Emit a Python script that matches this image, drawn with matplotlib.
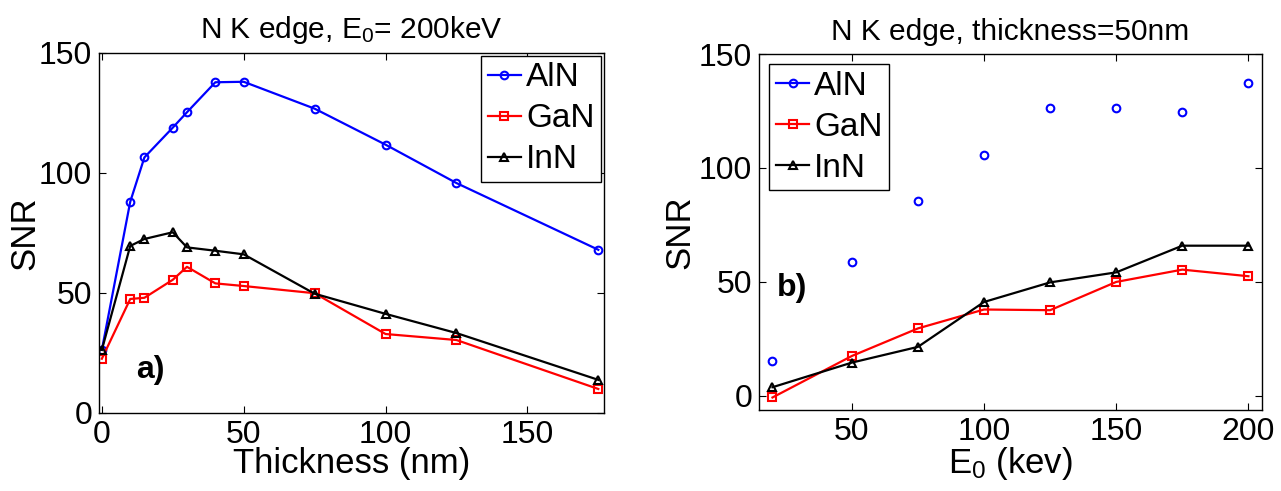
"""
SNR of the N K edge for AlN, GaN and InN:
a) versus specimen thickness, b) versus beam energy.
"""

import matplotlib

matplotlib.use('Agg')
import matplotlib.pyplot as plt

plt.rcParams['font.family'] = ['Liberation Sans', 'DejaVu Sans']
plt.rcParams['mathtext.fontset'] = 'custom'
plt.rcParams['mathtext.rm'] = 'Liberation Sans'
plt.rcParams['mathtext.it'] = 'Liberation Sans'

# panel a) thickness scan, E0 = 200 keV
thickness = [0, 10, 15, 25, 30, 40, 50, 75, 100, 125, 175]
aln_thick = [26.3, 88, 106.5, 118.9, 125.3, 137.8, 138, 126.8, 111.8, 95.8, 68]
gan_thick = [22.6, 47.5, 48, 55.5, 60.9, 54, 52.9, 49.9, 32.9, 30.4, 10]
inn_thick = [26.3, 69.6, 72.5, 75.3, 69, 67.6, 66.1, 49.7, 41.3, 33.3, 13.8]

# panel b) energy scan, thickness = 50 nm
energy = [20, 50, 75, 100, 125, 150, 175, 200]
aln_energy = [15.2, 58.6, 85.5, 105.8, 126.2, 126.2, 124.4, 137.4]
gan_energy = [-0.7, 17.5, 29.6, 37.9, 37.6, 50, 55.4, 52.5]
inn_energy = [3.8, 14.6, 21.5, 41.2, 49.8, 54.2, 65.9, 65.9]

materials = ['AlN', 'GaN', 'InN']
colors = ['#0000ff', '#ff0000', '#000000']
markers = ['o', 's', '^']

TICK_FS = 23
LABEL_FS = 25
TITLE_FS = 21.5
LEGEND_FS = 24
PANEL_FS = 23


def style_axes(ax):
  ax.tick_params(direction='in', which='both', top=True, right=True,
                 labelsize=TICK_FS, length=5, width=0.8, pad=5)
  for spine in ax.spines.values():
    spine.set_linewidth(1.0)


def draw_line(ax, x, y, color, marker, label=None, line=True):
  ax.plot(x, y, color=color, marker=marker, markersize=5.5, markerfacecolor='none',
          markeredgecolor=color, markeredgewidth=1.5, linewidth=1.6 if line else 0,
          linestyle='-' if line else 'none', label=label)


def add_legend(ax, loc, pad):
  leg = ax.legend(loc=loc, fontsize=LEGEND_FS, handlelength=1.0, handletextpad=0.15,
                  borderpad=0.2, labelspacing=0.3, fancybox=False, framealpha=1,
                  edgecolor='black', borderaxespad=pad)
  leg.get_frame().set_linewidth(1.0)
  return leg


fig = plt.figure(figsize=(12.81, 4.91), dpi=100)
ax1 = fig.add_axes([0.0773, 0.1589, 0.3942, 0.7332])
ax2 = fig.add_axes([0.5927, 0.164, 0.3922, 0.726])

# panel a)
series_a = [aln_thick, gan_thick, inn_thick]
for name, ys, c, m in zip(materials, series_a, colors, markers):
  draw_line(ax1, thickness, ys, c, m, label=name)
ax1.set_xlim(-1, 177)
ax1.set_ylim(0, 150)
ax1.set_xticks([0, 50, 100, 150])
ax1.set_yticks([0, 50, 100, 150])
ax1.set_xlabel('Thickness (nm)', fontsize=LABEL_FS, labelpad=-2)
ax1.set_ylabel('SNR', fontsize=LABEL_FS, labelpad=-2)
ax1.set_title('N K edge, E$_0$= 200keV', fontsize=TITLE_FS, pad=11)
ax1.text(12, 17.9, 'a)', fontsize=PANEL_FS, fontweight='bold', va='center', ha='left')
style_axes(ax1)
add_legend(ax1, 'upper right', 0.08)

# panel b) -- AlN drawn as markers only
series_b = [aln_energy, gan_energy, inn_energy]
for name, ys, c, m in zip(materials, series_b, colors, markers):
  if name == 'AlN':
    draw_line(ax2, energy, ys, c, m, line=False)
    draw_line(ax2, [], [], c, m, label=name)
  else:
    draw_line(ax2, energy, ys, c, m, label=name)
ax2.set_xlim(15, 205)
ax2.set_ylim(-6.4, 150)
ax2.set_xticks([50, 100, 150, 200])
ax2.set_yticks([0, 50, 100, 150])
ax2.set_xlabel('E$_0$ (kev)', fontsize=LABEL_FS, labelpad=-2)
ax2.set_ylabel('SNR', fontsize=LABEL_FS, labelpad=2)
ax2.set_title('N K edge, thickness=50nm', fontsize=TITLE_FS, pad=10)
ax2.text(21.8, 47.4, 'b)', fontsize=PANEL_FS, fontweight='bold', va='center', ha='left')
style_axes(ax2)
add_legend(ax2, 'upper left', 0.3)

fig.savefig('out.png', dpi=100)
plt.close(fig)
